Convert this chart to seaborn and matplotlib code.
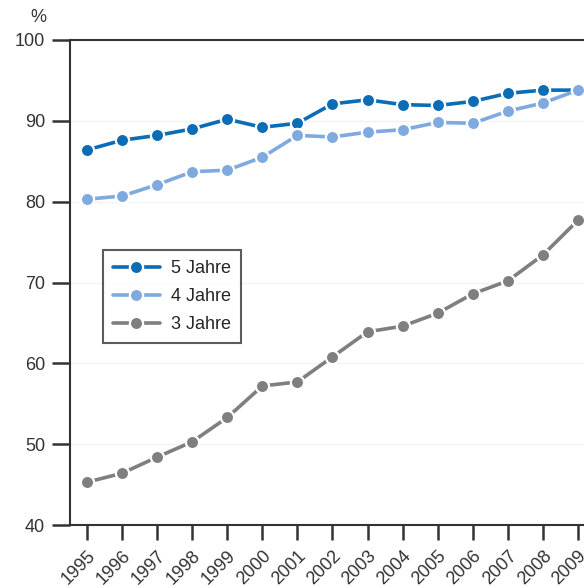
import matplotlib
matplotlib.use("Agg")
import matplotlib.pyplot as plt
import seaborn as sns
import pandas as pd

years = list(range(1995, 2010))
jahre5 = [86.4, 87.6, 88.2, 89.0, 90.2, 89.2, 89.7, 92.1, 92.6, 92.0, 91.9, 92.4, 93.4, 93.8, 93.8]
jahre4 = [80.3, 80.7, 82.1, 83.7, 83.9, 85.5, 88.2, 88.0, 88.6, 88.9, 89.8, 89.7, 91.2, 92.2, 93.8]
jahre3 = [45.3, 46.4, 48.4, 50.3, 53.3, 57.2, 57.7, 60.8, 63.9, 64.6, 66.2, 68.6, 70.2, 73.4, 77.7]
series_names = ["5 Jahre", "4 Jahre", "3 Jahre"]
colors = ["#0b6db6", "#7eaadf", "#7f7f7f"]
yticks = [40, 50, 60, 70, 80, 90, 100]

df = pd.DataFrame({
    "Jahr": years * 3,
    "Wert": jahre5 + jahre4 + jahre3,
    "Serie": [series_names[0]] * 15 + [series_names[1]] * 15 + [series_names[2]] * 15,
})

sns.set_style("white")
plt.rcParams["font.family"] = ["Liberation Sans", "DejaVu Sans"]

fig = plt.figure(figsize=(5.84, 5.88), dpi=100)
ax = fig.add_axes([70 / 584, 1 - 525 / 588, 525.5 / 584, 485 / 588])

sns.lineplot(data=df, x="Jahr", y="Wert", hue="Serie", palette=dict(zip(series_names, colors)),
             hue_order=series_names, marker="o", markersize=9.5, markeredgecolor="white",
             markeredgewidth=1.6, linewidth=2.6, ax=ax, zorder=3)

ax.set_xlim(1994.515, 2009.5)
ax.set_ylim(40, 100)
ax.set_yticks(yticks)
ax.set_yticklabels([str(v) for v in yticks])
ax.set_xticks(years)
ax.set_xticklabels([str(y) for y in years], rotation=45, ha="right", va="top",
                   rotation_mode="anchor")
ax.set_xlabel("")
ax.set_ylabel("")
ax.grid(axis="y", color="#f3f3f3", linewidth=1)
ax.set_axisbelow(True)

for s in ["left", "bottom", "top", "right"]:
    ax.spines[s].set_color("#333333")
    ax.spines[s].set_linewidth(1.5)
ax.tick_params(axis="both", which="both", width=1.8, color="#333333",
               labelsize=13, labelcolor="#333333", direction="out")
ax.tick_params(axis="y", length=13, pad=5)
ax.tick_params(axis="x", length=11, pad=5)
ax.tick_params(left=True, bottom=True)

fig.text(38 / 584, 1 - 18 / 588, "%", ha="center", va="center", fontsize=13, color="#333333")

handles, labels = ax.get_legend_handles_labels()
leg = ax.legend(handles, labels, loc="upper left", bbox_to_anchor=(103 / 584, 1 - 250 / 588),
                bbox_transform=fig.transFigure, borderaxespad=0, frameon=True, fancybox=False,
                fontsize=13, handlelength=2.6, labelspacing=0.62, borderpad=0.55,
                handletextpad=0.6)
leg.get_frame().set_edgecolor("#333333")
leg.get_frame().set_linewidth(1.5)

fig.savefig("out.png", dpi=100)
